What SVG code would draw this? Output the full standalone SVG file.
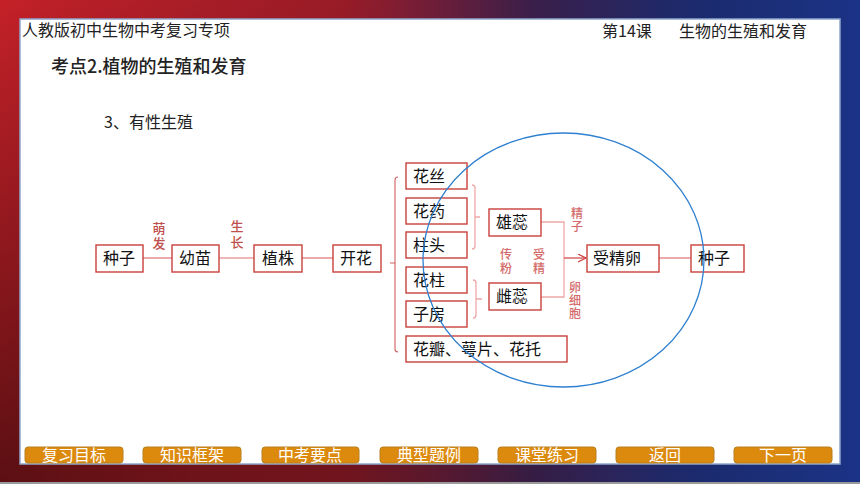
<svg xmlns="http://www.w3.org/2000/svg" width="860" height="484" viewBox="0 0 860 484">
<defs>
<linearGradient id="bgH" x1="0" y1="0" x2="1" y2="0">
<stop offset="0" stop-color="#e4262f"/>
<stop offset="0.4" stop-color="#9c1c28"/>
<stop offset="0.62" stop-color="#3a1f4a"/>
<stop offset="0.8" stop-color="#1c2a6c"/>
<stop offset="1" stop-color="#1b3386"/>
</linearGradient>
<radialGradient id="bgD" cx="0" cy="484" r="620" gradientUnits="userSpaceOnUse">
<stop offset="0" stop-color="#000" stop-opacity="0.6"/>
<stop offset="0.6" stop-color="#000" stop-opacity="0.25"/>
<stop offset="1" stop-color="#000" stop-opacity="0"/>
</radialGradient>
<marker id="arr" markerWidth="10" markerHeight="10" refX="8" refY="4" orient="auto" markerUnits="userSpaceOnUse">
<path d="M0,0 L8,4 L0,8" fill="none" stroke="#d04040" stroke-width="1.2"/>
</marker>
<style>
.cn{font-family:"Noto Sans CJK SC","Noto Sans",sans-serif;}
.hd{font-size:16px;fill:#222;}
.box{fill:#fff;stroke:#c8403c;stroke-width:1.4;}
.bt{font-size:16px;fill:#111;}
.vl{writing-mode:vertical-rl;font-size:12px;letter-spacing:1px;font-weight:500;}
.lbl{fill:#c0504d;font-size:13px;}
.lbl2{fill:#d46a6a;}
.ln{fill:none;stroke:#e07070;stroke-width:1.2;}
.br{fill:none;stroke:#d06060;stroke-width:1.1;}
.pk{fill:none;stroke:#eea8a8;stroke-width:1.3;}
.btn{fill:#dc8a0e;stroke:#b8801e;stroke-width:1;}
.btxt{font-size:16px;fill:#fff;text-anchor:middle;}
</style>
</defs>
<rect x="0" y="0" width="860" height="484" fill="url(#bgH)"/>
<rect x="0" y="0" width="860" height="484" fill="url(#bgD)"/>
<rect x="0" y="482" width="860" height="2" fill="#9a9a9a"/>
<rect x="20" y="19" width="820" height="445" fill="#fff" stroke="#8ea6cc" stroke-width="1.5"/>

<g id="header" class="cn">
<text x="22" y="36" class="hd">人教版初中生物中考复习专项</text>
<text x="602" y="37" class="hd">第14课</text>
<text x="679" y="37" class="hd">生物的生殖和发育</text>
<text x="51" y="73" font-size="18" font-weight="500" fill="#222">考点2.植物的生殖和发育</text>
<text x="104" y="128" font-size="16" fill="#222">3、有性生殖</text>
</g>

<g id="connectors">
<path class="ln" d="M143,258 L172,258"/>
<path class="ln" d="M219,258 L254,258"/>
<path class="ln" d="M302,258 L333,258"/>
<path class="br" d="M398,177 Q395,177 395,180 L395,349 Q395,352 398,352 M395,263 L390,263"/>
<path class="pk" d="M472,185 Q475,185 475,188 L475,246 Q475,249 472,249 M475,217 L480,217"/>
<path class="pk" d="M473,280 Q476,280 476,283 L476,315 Q476,318 473,318 M476,299 L482,299"/>
<path class="pk" d="M541,222 L564,222 L564,297 L541,297"/>
<path d="M564,258 L586,258" fill="none" stroke="#d04040" stroke-width="1.2" marker-end="url(#arr)"/>
<path class="ln" d="M659,258 L691,258"/>
</g>

<g id="edge-labels" class="cn">
<text class="vl lbl" x="159" y="221.5" style="letter-spacing:2px">萌发</text>
<text class="vl lbl" x="237" y="219.5" style="letter-spacing:3px">生长</text>
<text class="vl lbl2" x="506" y="248" style="letter-spacing:2px">传粉</text>
<text class="vl lbl2" x="539" y="248" style="letter-spacing:2px">受精</text>
<text class="vl lbl2" x="577" y="207">精子</text>
<text class="vl lbl2" x="575" y="281">卵细胞</text>
</g>

<g id="n-zhongzi1" class="cn"><rect class="box" x="96" y="245" width="47" height="27"/><text class="bt" x="103" y="264">种子</text></g>
<g id="n-youmiao" class="cn"><rect class="box" x="172" y="245" width="47" height="27"/><text class="bt" x="179" y="264">幼苗</text></g>
<g id="n-zhizhu" class="cn"><rect class="box" x="254" y="245" width="48" height="27"/><text class="bt" x="262" y="264">植株</text></g>
<g id="n-kaihua" class="cn"><rect class="box" x="333" y="245" width="48" height="27"/><text class="bt" x="340" y="264">开花</text></g>

<g id="n-huasi" class="cn"><rect class="box" x="406" y="163" width="61" height="26"/><text class="bt" x="413" y="182">花丝</text></g>
<g id="n-huayao" class="cn"><rect class="box" x="406" y="198" width="61" height="26"/><text class="bt" x="413" y="217">花药</text></g>
<g id="n-zhutou" class="cn"><rect class="box" x="406" y="232" width="61" height="26"/><text class="bt" x="413" y="251">柱头</text></g>
<g id="n-huazhu" class="cn"><rect class="box" x="406" y="267" width="61" height="26"/><text class="bt" x="413" y="286">花柱</text></g>
<g id="n-zifang" class="cn"><rect class="box" x="406" y="301" width="61" height="26"/><text class="bt" x="413" y="320">子房</text></g>
<g id="n-huaban" class="cn"><rect class="box" x="406" y="336" width="161" height="26"/><text class="bt" x="413" y="355">花瓣、萼片、花托</text></g>

<g id="n-xiongrui" class="cn"><rect class="box" x="489" y="209" width="52" height="27"/><text class="bt" x="496" y="228">雄蕊</text></g>
<g id="n-cirui" class="cn"><rect class="box" x="489" y="283" width="52" height="27"/><text class="bt" x="496" y="302">雌蕊</text></g>

<g id="n-shoujingluan" class="cn"><rect class="box" x="587" y="245" width="72" height="27"/><text class="bt" x="593" y="264">受精卵</text></g>
<g id="n-zhongzi2" class="cn"><rect class="box" x="691" y="245" width="53" height="27"/><text class="bt" x="698" y="264">种子</text></g>

<ellipse id="circle" cx="563.5" cy="260" rx="140.5" ry="127" fill="none" stroke="#2f80d0" stroke-width="1.3"/>

<g id="nav" class="cn">
<rect class="btn" x="25" y="447" width="98" height="16" rx="3"/><text class="btxt" x="74" y="461">复习目标</text>
<rect class="btn" x="143" y="447" width="98" height="16" rx="3"/><text class="btxt" x="192" y="461">知识框架</text>
<rect class="btn" x="262" y="447" width="97" height="16" rx="3"/><text class="btxt" x="310" y="461">中考要点</text>
<rect class="btn" x="380" y="447" width="98" height="16" rx="3"/><text class="btxt" x="429" y="461">典型题例</text>
<rect class="btn" x="498" y="447" width="98" height="16" rx="3"/><text class="btxt" x="547" y="461">课堂练习</text>
<rect class="btn" x="616" y="447" width="98" height="16" rx="3"/><text class="btxt" x="665" y="461">返回</text>
<rect class="btn" x="734" y="447" width="98" height="16" rx="3"/><text class="btxt" x="783" y="461">下一页</text>
</g>
</svg>
